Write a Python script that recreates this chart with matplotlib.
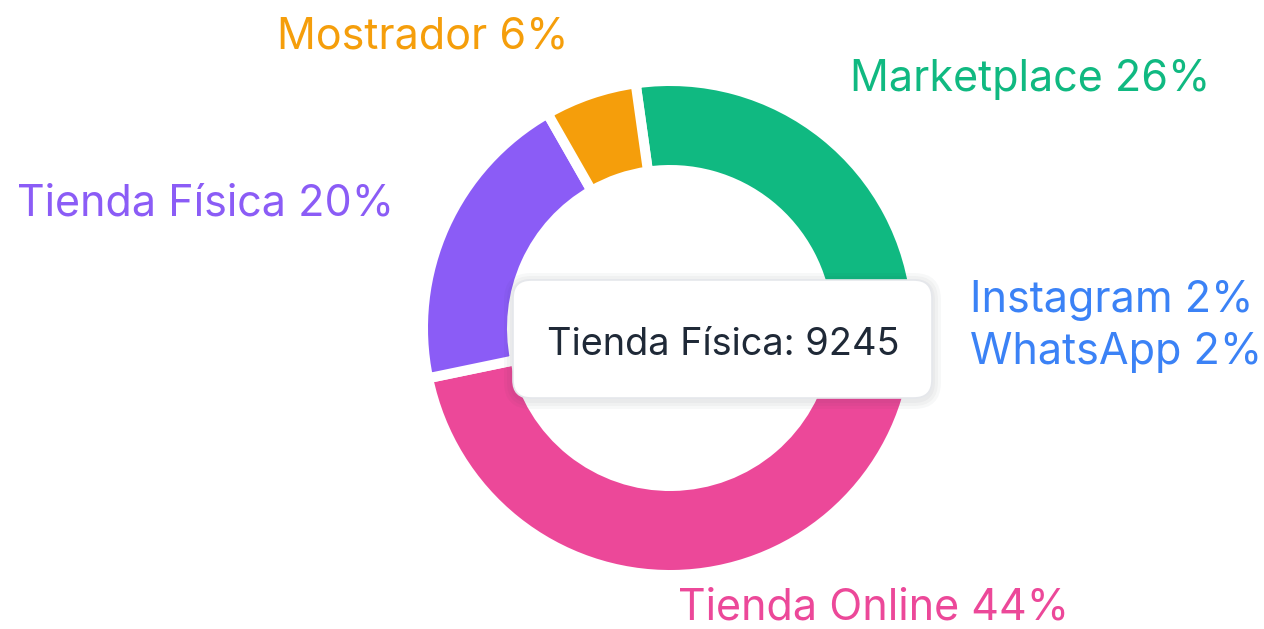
import numpy as np
import matplotlib.pyplot as plt
from matplotlib.patches import FancyBboxPatch

plt.rcParams['font.family'] = ['Inter', 'DejaVu Sans']

# channel data (clockwise from the top)
channels = ['Marketplace', 'Instagram', 'WhatsApp', 'Tienda Online', 'Tienda Física', 'Mostrador']
sales = [12000, 925, 925, 20340, 9245, 2790]
colors = ['#10B981', '#3B82F6', '#6366F1', '#EC4899', '#8B5CF6', '#F59E0B']
label_colors = ['#10B981', '#3B82F6', '#3B82F6', '#EC4899', '#8B5CF6', '#F59E0B']
hovered = 'Tienda Física'

W, H = 1264, 629
cx, cy = 670, H - 328
R = 242
ring = 79
gap = 10  # px of white between slices

fig = plt.figure(figsize=(W / 100, H / 100), dpi=100)
ax = fig.add_axes([0, 0, 1, 1])

wedges, _ = ax.pie(sales, colors=colors, startangle=98, counterclock=False,
                   center=(cx, cy), radius=R + gap / 2,
                   wedgeprops=dict(width=ring + gap, edgecolor='white', linewidth=gap * 0.72))

total = sum(sales)
# small nudges (px, screen coords) so labels don't collide
nudge = {'Marketplace': (-9, -13), 'Mostrador': (-4, -5), 'Tienda Física': (0, 0),
         'Tienda Online': (3, -22), 'Instagram': (-2, -23), 'WhatsApp': (-1, -8)}

for w, name, val, col in zip(wedges, channels, sales, label_colors):
    mid = np.deg2rad((w.theta1 + w.theta2) / 2)
    x = cx + 1.25 * R * np.cos(mid)
    y = cy + 1.25 * R * np.sin(mid)
    dx, dy = nudge[name]
    ha = 'left' if np.cos(mid) >= -1e-6 else 'right'
    pct = round(100 * val / total)
    ax.text(x + dx, y - dy, f'{name} {pct}%', color=col, fontsize=31,
            ha=ha, va='center')

# tooltip
bx, by, bw, bh = 513, H - 398, 419, 118
for i, a in enumerate([0.03, 0.03, 0.03]):
    s = 3 * (i + 1)
    ax.add_patch(FancyBboxPatch((bx - s, by - s - 2), bw + 2 * s, bh + 2 * s,
                                boxstyle='round,pad=0,rounding_size=%d' % (18 + s),
                                facecolor='#1F2937', edgecolor='none', alpha=a, zorder=5))
ax.add_patch(FancyBboxPatch((bx, by), bw, bh, boxstyle='round,pad=0,rounding_size=18',
                            facecolor='white', edgecolor='#E5E7EB', linewidth=1.2, zorder=6))
hv = sales[channels.index(hovered)]
ax.text(bx + bw / 2 + 1, by + bh / 2 - 6, f'{hovered}: {hv}', color='#1F2937', fontsize=27.3,
        ha='center', va='center', zorder=7)

ax.set_xlim(0, W)
ax.set_ylim(0, H)
ax.set_aspect('equal')
ax.axis('off')

fig.savefig('out.png', dpi=100, facecolor='white')
